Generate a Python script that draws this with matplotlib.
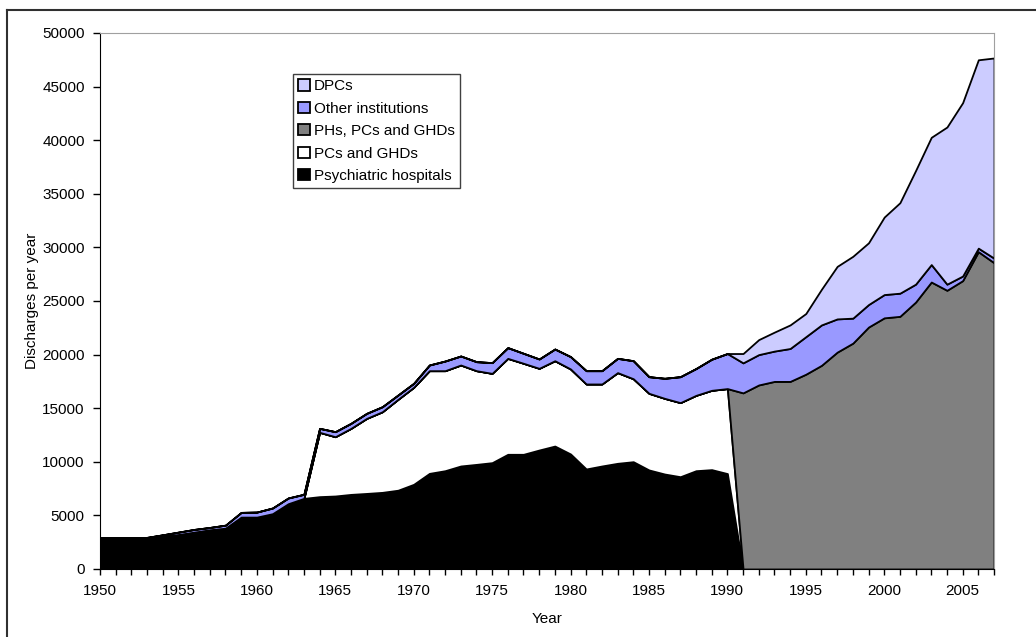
import matplotlib
matplotlib.use('Agg')
import matplotlib.pyplot as plt
from matplotlib.lines import Line2D
from matplotlib.ticker import MultipleLocator

plt.rcParams['font.family'] = ['Liberation Sans', 'DejaVu Sans']

years = list(range(1950, 2008))

psychiatric_hospitals = [2900, 2900, 2900, 2900, 3060, 3220, 3440, 3660, 3810, 4840,
                         4840, 5160, 6090, 6590, 6750, 6810, 6960, 7050, 7150, 7350,
                         7900, 8920, 9170, 9610, 9760, 9920, 10700, 10700, 11100, 11470,
                         10730, 9330, 9610, 9860, 10010, 9240, 8860, 8610, 9170, 9270,
                         8900] + [0] * 17

pcs_ghds = [0] * 14 + [6000, 5530, 6160, 7000, 7520, 8480,
                       9050, 9580, 9330, 9420, 8740, 8330, 8950, 8490, 7620, 7960,
                       7930, 7930, 7650, 8460, 7740, 7150, 7060, 6910, 7030, 7400,
                       7930] + [0] * 17

phs_pcs_ghds = [0] * 41 + [16430, 17170, 17500, 17500, 18170, 19000, 20230, 21070, 22570,
                           23430, 23570, 24900, 26770, 26000, 26900, 29600, 28570]

other_institutions = [0, 0, 0, 50, 130, 220, 250, 215, 280, 440,
                      470, 530, 535, 380, 370, 470, 470, 470, 470, 400,
                      370, 530, 900, 840, 840, 1000, 1000, 930, 870, 1090,
                      1150, 1240, 1240, 1330, 1680, 1550, 1870, 2420, 2500, 2900,
                      3270, 2800, 2830, 2830, 3070, 3500, 3770, 3100, 2330, 2100,
                      2170, 2160, 1670, 1630, 570, 430, 330, 430]

dpcs = [0] * 41 + [870, 1400, 1770, 2200, 2160, 3330, 4900, 5770, 5760,
                   7230, 8440, 10600, 11870, 14660, 16170, 17570, 18670]

labels = ['Psychiatric hospitals', 'PCs and GHDs', 'PHs, PCs and GHDs',
          'Other institutions', 'DPCs']
colors = ['black', 'white', '#808080', '#9999ff', '#ccccff']

fig = plt.figure(figsize=(10.36, 6.37), dpi=100)
ax = fig.add_axes([100 / 1036, 1 - 569 / 637, 894 / 1036, 536 / 637])

ax.stackplot(years, psychiatric_hospitals, pcs_ghds, phs_pcs_ghds,
             other_institutions, dpcs, labels=labels, colors=colors,
             edgecolor='black', linewidth=1.3)

ax.set_xlim(1950, 2007)
ax.set_ylim(0, 50000)
ax.xaxis.set_major_locator(MultipleLocator(5))
ax.xaxis.set_minor_locator(MultipleLocator(1))
ax.yaxis.set_major_locator(MultipleLocator(5000))
ax.tick_params(axis='both', which='both', direction='out', labelsize=11, width=1, color='black')
ax.tick_params(axis='x', which='both', length=4, pad=7)
ax.tick_params(axis='y', length=5, pad=6)

for side in ['top', 'right']:
    ax.spines[side].set_color('#a0a0a0')
for side in ['left', 'bottom']:
    ax.spines[side].set_color('black')

ax.set_xlabel('Year', fontsize=11, labelpad=10)
ax.set_ylabel('Discharges per year', fontsize=11, labelpad=2)

handles, labs = ax.get_legend_handles_labels()
leg = fig.legend(handles[::-1], labs[::-1], loc='upper left',
                 bbox_to_anchor=(293 / 1036, 1 - 74 / 637), fontsize=11,
                 frameon=True, fancybox=False, framealpha=1, edgecolor='#404040',
                 handlelength=0.75, handleheight=0.75, handletextpad=0.25,
                 labelspacing=0.55, borderpad=0.35, borderaxespad=0)
leg.get_frame().set_linewidth(1)

# outer frame, only left and top visible in the original
fig.add_artist(Line2D([7 / 1036, 7 / 1036], [0, 1 - 10 / 637], transform=fig.transFigure,
                      color='#303030', linewidth=1.5))
fig.add_artist(Line2D([7 / 1036, 1], [1 - 10 / 637, 1 - 10 / 637], transform=fig.transFigure,
                      color='#303030', linewidth=1.5))

fig.savefig('out.png', dpi=100)
